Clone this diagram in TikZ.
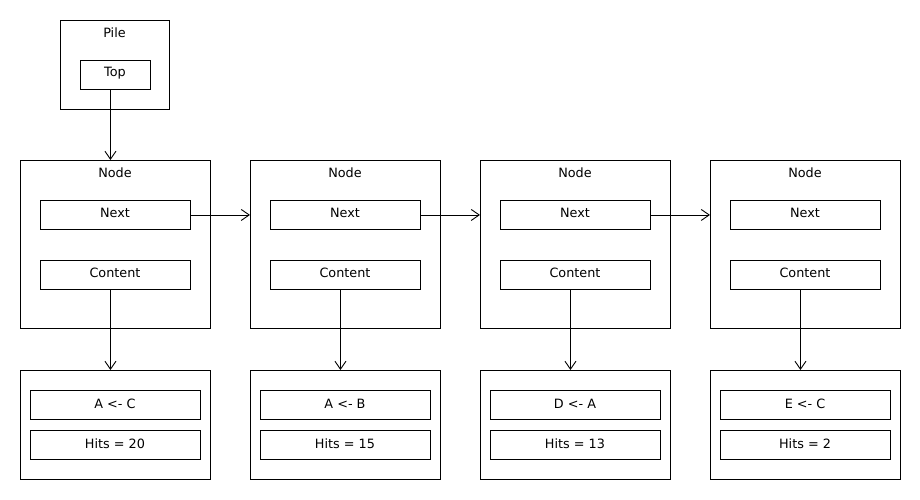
\documentclass[tikz,border=0pt]{standalone}
\usepackage{fontspec}
\setmainfont{DejaVu Sans}
\usetikzlibrary{arrows.meta}
\begin{document}
\begin{tikzpicture}[x=1pt,y=-1pt,
  every node/.style={font=\fontsize{12.8}{15}\selectfont, inner sep=0pt},
  box/.style={draw, line width=0.9pt, anchor=north west},
  outerbox/.style={box, minimum width=190pt, minimum height=168pt},
  inbox/.style={box, minimum width=150pt, minimum height=29pt},
  botbox/.style={box, minimum width=190pt, minimum height=109pt},
  botin/.style={box, minimum width=170pt, minimum height=29pt},
  arr/.style={line width=0.9pt, -{Straight Barb[length=8pt,width=11pt,line width=0.9pt]}}
]
\useasboundingbox (0,0) rectangle (920,500);
% Pile
\node[box, minimum width=109pt, minimum height=89pt] (pile) at (60,20) {};
\node (pilelbl) at (114.5,33) {Pile};
\node[box, minimum width=70pt, minimum height=29pt] (top) at (80,60) {};
\node (toplbl) at (115,73.5) {Top};
% Nodes
\foreach \i/\a/\h [evaluate=\i as \x using 20+230*(\i-1)] in {1/A <- C/20, 2/A <- B/15, 3/D <- A/13, 4/E <- C/2} {
  \node[outerbox] (n\i) at (\x,160) {};
  \node (nl\i) at (\x+95,173) {Node};
  \node[inbox] (nx\i) at (\x+20,200) {};
  \node (nxl\i) at (\x+95,213) {Next};
  \node[inbox] (c\i) at (\x+20,260) {};
  \node (cl\i) at (\x+95,273) {Content};
  \node[botbox] (b\i) at (\x,370) {};
  \node[botin] (bi\i) at (\x+10,390) {};
  \node (bil\i) at (\x+95,404) {\a};
  \node[botin] (bh\i) at (\x+10,430) {};
  \node (bhl\i) at (\x+95,443.5) {Hits = \h};
  \draw[arr] ([xshift=-5pt]c\i.south) -- ([xshift=-5pt]b\i.north);
}
\draw[arr] ([xshift=-5pt]top.south) -- ([xshift=-5pt]n1.north);
\draw[arr] (nx1.east) -- (nx1.east -| n2.west);
\draw[arr] (nx2.east) -- (nx2.east -| n3.west);
\draw[arr] (nx3.east) -- (nx3.east -| n4.west);
\end{tikzpicture}
\end{document}
